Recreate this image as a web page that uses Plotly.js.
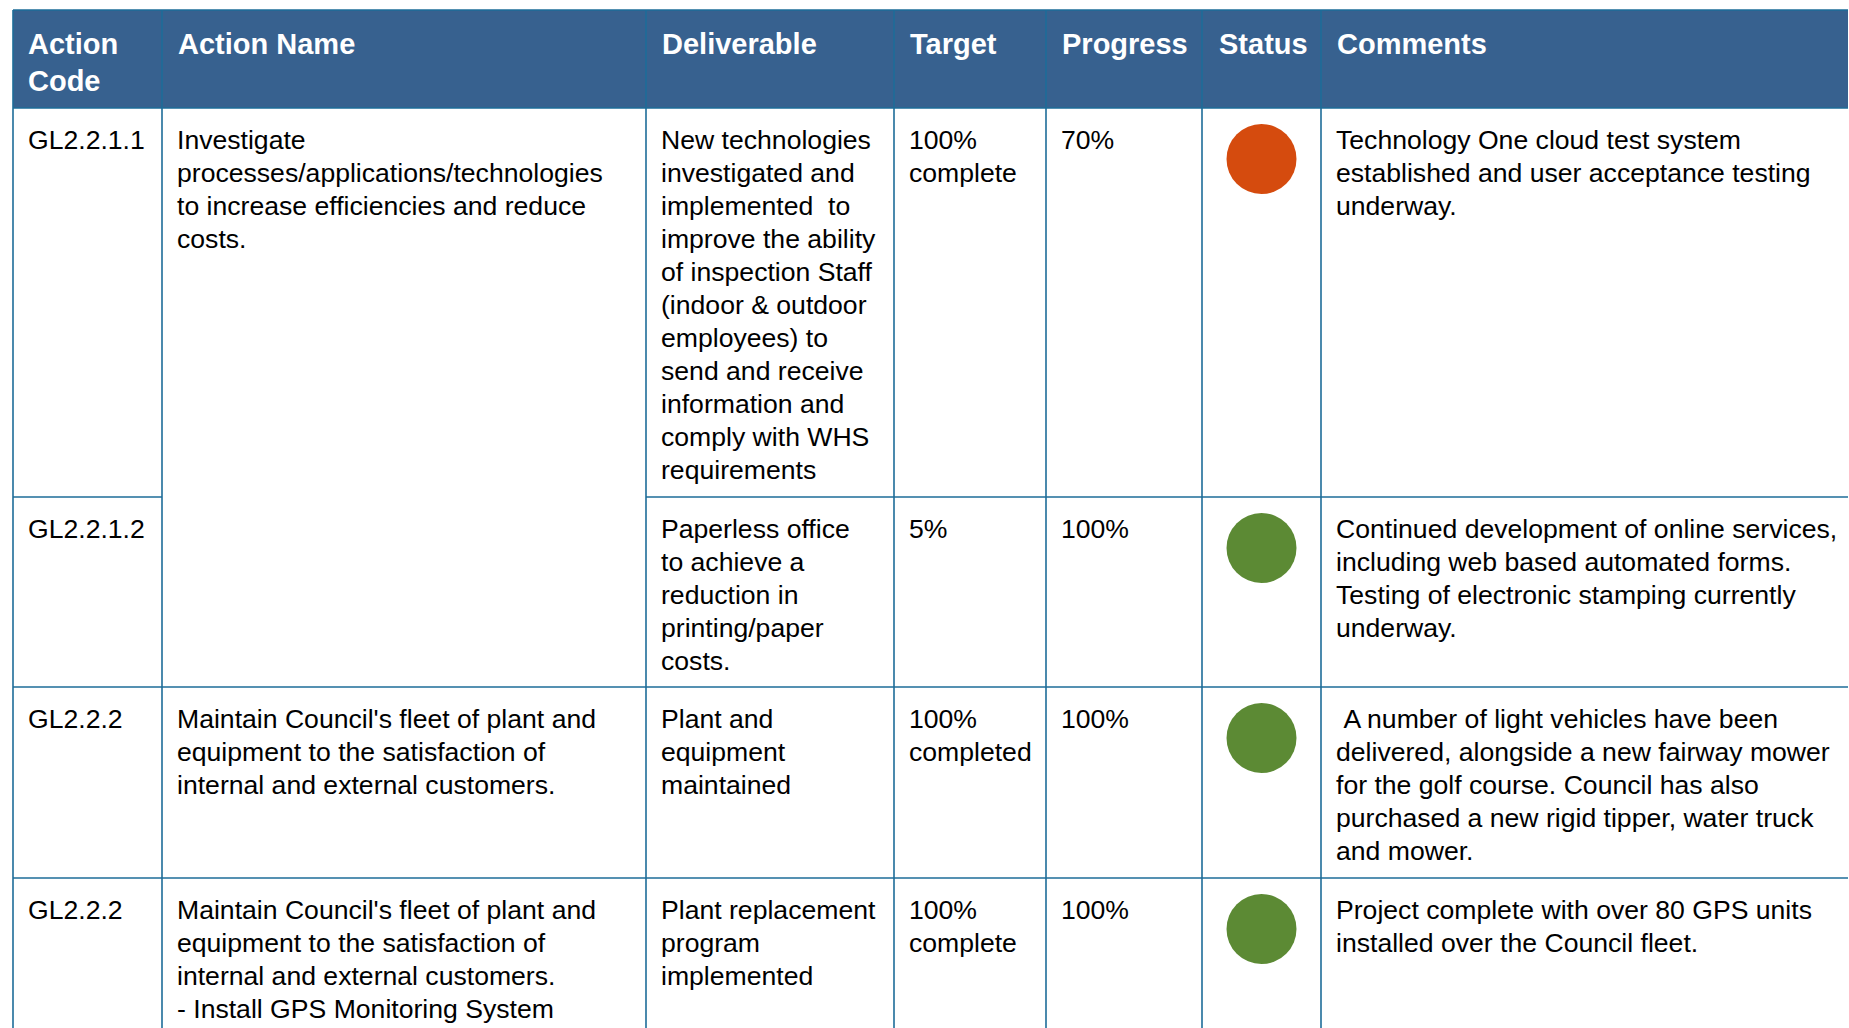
<!DOCTYPE html>
<html>
<head>
<meta charset="utf-8">
<script src="https://cdn.plot.ly/plotly-3.0.1.min.js"></script>
<style>html,body{margin:0;padding:0;background:#fff;overflow:hidden}#chart{width:1849px;height:1028px}</style>
</head>
<body>
<div id="chart"></div>
<script>
// ---------- DATA ----------
const headers = [["Action", "Code"], ["Action Name"], ["Deliverable"], ["Target"], ["Progress"], ["Status"], ["Comments"]];
const codes = ["GL2.2.1.1", "GL2.2.1.2", "GL2.2.2", "GL2.2.2"];
const actionNames = [
  ["Investigate", "processes/applications/technologies", "to increase efficiencies and reduce", "costs."],
  [],
  ["Maintain Council's fleet of plant and", "equipment to the satisfaction of", "internal and external customers."],
  ["Maintain Council's fleet of plant and", "equipment to the satisfaction of", "internal and external customers.", "- Install GPS Monitoring System"]
];
const deliverables = [
  ["New technologies", "investigated and", "implemented  to", "improve the ability", "of inspection Staff", "(indoor & outdoor", "employees) to", "send and receive", "information and", "comply with WHS", "requirements"],
  ["Paperless office", "to achieve a", "reduction in", "printing/paper", "costs."],
  ["Plant and", "equipment", "maintained"],
  ["Plant replacement", "program", "implemented"]
];
const targets = [["100%", "complete"], ["5%"], ["100%", "completed"], ["100%", "complete"]];
const progress = [["70%"], ["100%"], ["100%"], ["100%"]];
const statuses = ["Orange", "Green", "Green", "Green"];
const comments = [
  ["Technology One cloud test system", "established and user acceptance testing", "underway."],
  ["Continued development of online services,", "including web based automated forms.", "Testing of electronic stamping currently", "underway."],
  ["\u00a0A number of light vehicles have been", "delivered, alongside a new fairway mower", "for the golf course. Council has also", "purchased a new rigid tipper, water truck", "and mower."],
  ["Project complete with over 80 GPS units", "installed over the Council fleet."]
];

// ---------- LAYOUT / STYLE ----------
const W = 1849, H = 1028;
const colEdges = [13, 162, 646, 894, 1046, 1202, 1321, 1848];
const headTop = 10, headBot = 108;
const rowEdges = [108, 497, 687, 878, 1040];
const actionSpan = [2, 0, 1, 1]; // merged cells in Action Name column
const statusColors = { Orange: "#D54B0E", Green: "#5C8A34" };
const headerFill = "#37618F";
const borderColor = "#1D6C99";
const FONT = "Liberation Sans, Arial, sans-serif";
const bodySize = 26.6, headSize = 29;
const lineGap = 33, firstLine = 31.5, padX = 14;
const headLineGap = 36.6, headFirst = 34;
const headPad = [14, 15, 15, 15, 15, 16, 15];

const shapes = [];
const annotations = [];
function line(x0, y0, x1, y1) {
  shapes.push({type: "line", xref: "x", yref: "y", x0, y0, x1, y1, line: {color: borderColor, width: 1.6}});
}
// header background
shapes.push({type: "rect", xref: "x", yref: "y", x0: colEdges[0], x1: colEdges[colEdges.length - 1], y0: headTop, y1: headBot, fillcolor: headerFill, line: {width: 0}, layer: "below"});
// horizontal lines
line(colEdges[0], headTop, colEdges[7], headTop);
line(colEdges[0], headBot, colEdges[7], headBot);
for (let r = 1; r < rowEdges.length - 1; r++) {
  const y = rowEdges[r];
  for (let c = 0; c < 7; c++) {
    if (c === 1 && actionSpan[r] === 0) continue; // merged cell continues
    line(colEdges[c], y, colEdges[c + 1], y);
  }
}
// vertical lines
for (let c = 0; c < 7; c++) line(colEdges[c], headTop, colEdges[c], H + 5);

function addLines(lines, x, yStart, gap, size, color, bold) {
  lines.forEach((t, i) => {
    annotations.push({
      xref: "x", yref: "y", x: x, y: yStart + i * gap, text: bold ? "<b>" + t + "</b>" : t,
      showarrow: false, xanchor: "left", yanchor: "middle", align: "left",
      borderpad: 0, font: {family: FONT, size: size, color: color}
    });
  });
}
// header text
headers.forEach((h, c) => addLines(h, colEdges[c] + headPad[c], headTop + headFirst, headLineGap, headSize, "#FFFFFF", true));
// body text
const cols = [codes.map(c => [c]), actionNames, deliverables, targets, progress, null, comments];
for (let r = 0; r < codes.length; r++) {
  const y0 = rowEdges[r] + firstLine;
  cols.forEach((col, c) => {
    if (!col) return;
    addLines(col[r], colEdges[c] + padX, y0, lineGap, bodySize, "#000000", false);
  });
}

const statusTrace = {
  type: "scatter", mode: "markers",
  x: statuses.map(() => (colEdges[5] + colEdges[6]) / 2),
  y: statuses.map((s, r) => rowEdges[r] + 51),
  marker: {size: 70, color: statuses.map(s => statusColors[s]), line: {width: 0}},
  hoverinfo: "skip", showlegend: false
};

Plotly.newPlot("chart", [statusTrace], {
  width: W, height: H,
  margin: {l: 0, r: 0, t: 0, b: 0},
  paper_bgcolor: "#FFFFFF", plot_bgcolor: "#FFFFFF",
  xaxis: {range: [0, W], visible: false, fixedrange: true},
  yaxis: {range: [H, 0], visible: false, fixedrange: true},
  shapes: shapes, annotations: annotations, showlegend: false
}, {staticPlot: true, displayModeBar: false});
</script>
</body>
</html>
